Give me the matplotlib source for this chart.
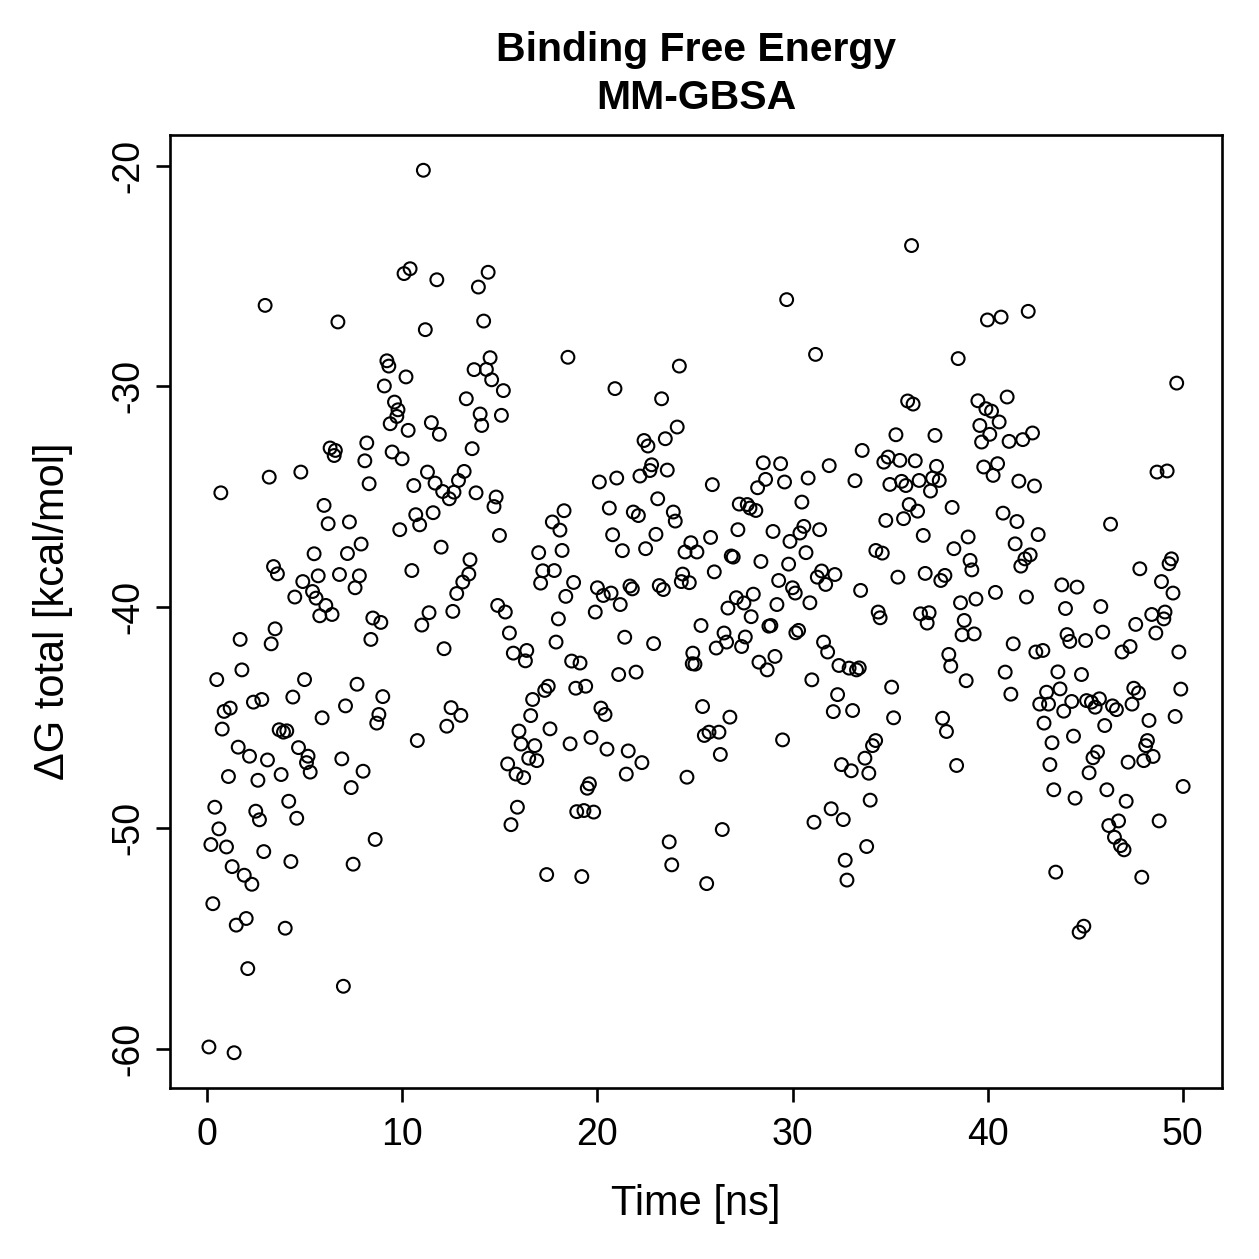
import matplotlib
matplotlib.use("Agg")
import matplotlib.pyplot as plt

plt.rcParams['font.family'] = ['Liberation Sans', 'DejaVu Sans']
plt.rcParams['axes.unicode_minus'] = False

# time [ns], grouped by region
t_top_left = [11.08, 10.09, 10.40, 11.77, 2.97, 6.70, 11.18, 9.21, 9.31, 10.19, 9.08, 9.60, 9.78, 9.72,
              9.38, 10.30, 11.49, 11.90, 6.30, 6.57, 6.51, 8.18, 9.48, 9.99, 8.08, 4.80, 11.29]
dg_top_left = [-20.21, -24.89, -24.67, -25.17, -26.33, -27.08, -27.43, -28.84, -29.08, -29.57, -29.98, -30.71,
               -31.06, -31.36, -31.69, -31.99, -31.64, -32.17, -32.79, -32.90, -33.13, -32.56, -32.97, -33.28,
               -33.37, -33.88, -33.88]

t_mid_left = [3.18, 0.70, 8.30, 10.59, 11.68, 12.07, 5.99, 6.20, 7.29, 10.69, 11.58, 10.89, 9.87, 7.89, 7.19,
              5.48, 11.99, 3.40, 3.60, 10.49, 5.69, 6.78, 7.80, 4.90, 7.58, 5.40, 5.58, 4.49, 6.08, 6.40, 5.77,
              8.49, 8.90, 11.37, 11.00, 3.48, 1.69, 3.28, 8.39, 12.14, 1.78, 0.49, 4.99, 7.68, 9.00, 4.39, 7.09,
              2.37, 2.80, 1.18, 0.87, 8.80, 8.69, 5.89, 0.77, 3.69, 3.91, 4.08, 10.77, 1.59, 4.68, 2.17, 3.09,
              5.17, 5.09, 6.90, 7.99, 5.28, 1.09, 2.60, 3.79, 7.38]
dg_mid_left = [-34.11, -34.82, -34.41, -34.49, -34.38, -34.76, -35.39, -36.22, -36.14, -35.81, -35.72, -36.27,
               -36.49, -37.14, -37.57, -37.58, -37.28, -38.16, -38.49, -38.34, -38.58, -38.52, -38.58, -38.84,
               -39.12, -39.29, -39.59, -39.54, -39.92, -40.33, -40.39, -40.49, -40.69, -40.25, -40.81, -40.98,
               -41.46, -41.66, -41.46, -41.88, -42.84, -43.28, -43.28, -43.49, -44.05, -44.07, -44.47, -44.30,
               -44.18, -44.57, -44.72, -44.86, -45.25, -45.01, -45.52, -45.55, -45.66, -45.60, -46.04, -46.34,
               -46.36, -46.75, -46.92, -46.75, -47.04, -46.87, -47.43, -47.47, -47.67, -47.84, -47.58, -48.17]

t_low_left = [0.39, 2.49, 2.68, 4.18, 4.59, 0.60, 0.19, 0.99, 2.90, 4.29, 8.61, 7.48, 1.28, 1.90, 2.29, 0.29,
              2.00, 1.49, 4.00, 2.08, 6.98, 0.09, 1.38]
dg_low_left = [-49.06, -49.24, -49.63, -48.79, -49.56, -50.04, -50.75, -50.86, -51.07, -51.52, -50.52, -51.64,
               -51.75, -52.14, -52.55, -53.43, -54.10, -54.40, -54.54, -56.37, -57.17, -59.92, -60.18]

t_top_c1 = [14.40, 13.90, 14.17, 14.50, 13.68, 14.31, 14.58, 15.18, 18.49, 24.20, 20.90, 23.29, 13.28, 13.99,
            14.07, 15.08, 24.09, 23.48, 22.39, 22.59, 13.58, 13.17, 22.78, 22.69, 23.58]
dg_top_c1 = [-24.83, -25.50, -27.04, -28.70, -29.24, -29.23, -29.70, -30.19, -28.68, -29.08, -30.10, -30.56,
             -30.56, -31.25, -31.77, -31.31, -31.84, -32.37, -32.45, -32.70, -32.82, -33.85, -33.55, -33.81,
             -33.79]

t_mid_c1 = [12.88, 12.65, 12.41, 13.78, 14.81, 14.70, 14.98, 13.47, 13.41, 13.10, 12.79, 12.59, 14.89, 15.28,
            15.49, 15.69, 16.38, 16.31, 12.50, 13.00, 12.28, 20.10, 20.99, 22.18, 18.29, 17.69, 18.08, 20.61,
            23.09, 21.84, 22.10, 23.89, 23.99, 20.78, 23.00, 22.47, 21.28, 24.79, 24.49, 16.99, 18.19, 17.20,
            17.79, 17.09, 18.78, 18.38, 18.00, 17.88, 20.00, 20.30, 20.70, 21.17, 19.89, 21.67, 21.79, 23.17,
            23.38, 24.37, 24.30, 24.71, 21.40, 22.88, 18.68, 19.11, 21.09, 21.98, 18.89, 19.40, 17.48, 17.30,
            16.68, 16.58, 15.98, 16.09, 16.79, 17.57, 16.48, 16.89, 15.40, 15.83, 16.22, 20.18, 20.39, 18.60,
            19.67, 20.49, 21.58, 22.28, 21.48, 19.59, 19.48, 24.59, 24.89, 24.86]
dg_mid_c1 = [-34.26, -34.79, -35.09, -34.82, -35.01, -35.44, -36.75, -37.85, -38.50, -38.86, -39.38, -40.19,
             -39.92, -40.22, -41.17, -42.08, -41.96, -42.43, -44.55, -44.90, -45.39, -34.33, -34.15, -34.06,
             -35.63, -36.14, -36.51, -35.51, -35.09, -35.69, -35.85, -35.69, -36.10, -36.72, -36.70, -37.35,
             -37.44, -37.08, -37.50, -37.53, -37.43, -38.35, -38.34, -38.91, -38.88, -39.51, -40.53, -41.58,
             -39.12, -39.47, -39.36, -39.88, -40.22, -39.04, -39.17, -39.02, -39.20, -38.50, -38.84, -38.89,
             -41.36, -41.65, -42.44, -42.53, -43.05, -42.94, -43.67, -43.58, -43.58, -43.77, -44.18, -44.91,
             -45.61, -46.20, -46.27, -45.51, -46.84, -46.95, -47.10, -47.56, -47.72, -44.57, -44.86, -46.19,
             -45.90, -46.43, -46.51, -47.04, -47.56, -48.00, -48.20, -47.70, -42.08, -42.56]

t_low_c1 = [15.90, 15.57, 18.94, 19.31, 19.81, 23.68, 23.81, 17.40, 19.20]
dg_low_c1 = [-49.06, -49.85, -49.26, -49.21, -49.28, -50.63, -51.67, -52.11, -52.20]

t_top_c2 = [36.10, 29.70, 31.18, 35.90, 36.18, 35.30, 37.30, 33.57, 28.50, 29.39, 31.88, 34.90, 34.68, 35.50,
            36.29, 37.38]
dg_top_c2 = [-23.62, -26.07, -28.55, -30.66, -30.80, -32.19, -32.22, -32.90, -33.46, -33.50, -33.59, -33.20,
             -33.43, -33.35, -33.37, -33.62]

t_mid_c2 = [25.89, 28.62, 28.21, 29.59, 30.80, 33.20, 34.99, 35.59, 35.81, 36.49, 37.18, 37.52, 37.07, 30.48,
            27.27, 27.68, 27.82, 28.12, 35.98, 36.41, 34.78, 35.69, 36.70, 27.20, 29.00, 30.58, 30.38, 29.87,
            31.39, 25.80, 25.10, 26.86, 26.96, 30.69, 28.38, 29.80, 34.27, 34.60, 25.99, 29.29, 31.49, 31.27,
            31.70, 32.17, 35.40, 36.80, 37.60, 33.49, 27.12, 27.51, 27.99, 26.69, 29.20, 30.00, 30.14, 30.89,
            27.88, 25.31, 28.79, 28.89, 30.17, 30.31, 34.39, 34.49, 36.56, 37.00, 36.90, 26.49, 26.62, 27.58,
            27.39, 26.09, 25.00, 28.28, 28.70, 29.10, 31.59, 31.80, 32.38, 32.90, 33.28, 33.42, 30.99, 32.31,
            35.08, 25.39, 26.79, 25.72, 25.48, 26.23, 26.30, 29.49, 32.09, 33.08, 35.18, 37.69, 34.26, 34.10,
            33.71, 32.51, 33.01, 33.91]
dg_mid_c2 = [-34.45, -34.21, -34.59, -34.33, -34.15, -34.27, -34.44, -34.30, -34.49, -34.26, -34.15, -34.26,
             -34.74, -35.24, -35.33, -35.35, -35.51, -35.62, -35.35, -35.65, -36.07, -35.99, -36.75, -36.49,
             -36.57, -36.34, -36.64, -37.02, -36.49, -36.84, -37.50, -37.68, -37.73, -37.53, -37.93, -38.05,
             -37.43, -37.55, -38.40, -38.79, -38.36, -38.64, -38.97, -38.52, -38.64, -38.47, -38.79, -39.24,
             -39.57, -39.81, -39.41, -40.04, -39.88, -39.12, -39.36, -39.80, -40.43, -40.83, -40.86, -40.83,
             -41.16, -41.05, -40.22, -40.48, -40.30, -40.25, -40.72, -41.17, -41.58, -41.35, -41.78, -41.85,
             -42.58, -42.49, -42.84, -42.23, -41.58, -42.03, -42.64, -42.76, -42.84, -42.75, -43.29, -43.96,
             -43.62, -44.50, -44.98, -45.66, -45.81, -45.66, -46.67, -46.01, -44.73, -44.68, -45.01, -45.03,
             -46.04, -46.27, -46.84, -47.13, -47.41, -47.52]

t_low_c2 = [33.98, 31.98, 32.60, 31.10, 26.40, 33.80, 32.70, 25.60, 32.79]
dg_low_c2 = [-48.74, -49.13, -49.62, -49.74, -50.07, -50.84, -51.46, -52.52, -52.36]

t_top_right = [42.08, 39.99, 40.69, 38.49, 49.69, 41.00, 39.50, 39.91, 40.20, 40.59, 39.60, 40.11, 39.69, 41.10,
               41.80, 42.30, 39.80, 40.51, 48.68, 49.20]
dg_top_right = [-26.60, -26.99, -26.86, -28.74, -29.85, -30.48, -30.65, -31.01, -31.12, -31.61, -31.77, -32.17,
                -32.52, -32.49, -32.41, -32.11, -33.65, -33.50, -33.88, -33.83]

t_mid_right = [40.28, 41.60, 42.40, 38.18, 40.79, 41.50, 46.30, 39.00, 38.27, 41.41, 42.59, 39.10, 39.19, 42.18,
               41.91, 41.70, 37.81, 47.80, 49.42, 49.30, 48.91, 49.50, 43.80, 44.58, 40.40, 38.61, 39.40, 41.99,
               43.99, 45.80, 38.80, 38.69, 39.31, 41.31, 44.07, 44.21, 45.02, 45.90, 47.59, 48.41, 49.09, 49.03,
               48.62, 38.01, 38.11, 42.47, 42.83, 46.89, 47.30, 49.80, 38.90, 40.90, 43.60, 44.81, 41.19, 43.02,
               43.71, 42.67, 43.12, 43.90, 44.31, 45.07, 45.32, 45.51, 45.73, 46.40, 46.60, 47.40, 47.49, 47.73,
               49.90, 49.61, 48.27, 37.89, 42.89, 46.00, 44.40, 43.30, 48.19, 48.10, 48.48, 48.00, 47.20, 45.63,
               45.40, 43.19, 45.20, 38.41, 50.02, 43.39, 46.11]
dg_mid_right = [-34.03, -34.29, -34.51, -35.48, -35.74, -36.12, -36.24, -36.82, -37.35, -37.13, -36.71, -37.88,
                -38.31, -37.63, -37.81, -38.14, -38.56, -38.26, -37.81, -38.03, -38.84, -39.36, -38.99, -39.09,
                -39.33, -39.80, -39.63, -39.54, -40.06, -39.97, -40.60, -41.25, -41.21, -41.66, -41.24, -41.55,
                -41.51, -41.13, -40.78, -40.33, -40.22, -40.53, -41.17, -42.14, -42.67, -42.03, -41.96, -42.03,
                -41.78, -42.03, -43.33, -42.94, -42.93, -43.05, -43.94, -43.85, -43.70, -44.39, -44.39, -44.71,
                -44.27, -44.23, -44.30, -44.53, -44.15, -44.47, -44.64, -44.39, -43.67, -43.88, -43.71, -44.95,
                -45.13, -45.63, -45.25, -45.36, -45.84, -46.14, -46.04, -46.27, -46.76, -46.95, -47.02, -46.56,
                -46.82, -47.13, -47.50, -47.17, -48.12, -48.27, -48.27]

t_low_right = [44.48, 47.10, 48.79, 46.71, 46.21, 46.50, 46.81, 46.99, 43.49, 47.90, 44.93, 44.69]
dg_low_right = [-48.65, -48.79, -49.68, -49.68, -49.89, -50.42, -50.80, -50.99, -52.00, -52.23, -54.45, -54.72]

time_ns = (t_top_left + t_mid_left + t_low_left + t_top_c1 + t_mid_c1 + t_low_c1 +
           t_top_c2 + t_mid_c2 + t_low_c2 + t_top_right + t_mid_right + t_low_right)
dg_total = (dg_top_left + dg_mid_left + dg_low_left + dg_top_c1 + dg_mid_c1 + dg_low_c1 +
            dg_top_c2 + dg_mid_c2 + dg_low_c2 + dg_top_right + dg_mid_right + dg_low_right)

xticks = [0, 10, 20, 30, 40, 50]
yticks = [-60, -50, -40, -30, -20]

fig = plt.figure(figsize=(12.59, 12.59), dpi=100)
ax = fig.add_axes([0.135, 0.1358, 0.8357, 0.757])

ax.scatter(time_ns, dg_total, s=85, facecolors='none', edgecolors='black', linewidths=1.5)
ax.margins(0.04)

for sp in ax.spines.values():
    sp.set_linewidth(1.9)
ax.set_xticks(xticks)
ax.set_yticks(yticks)
ax.set_xticklabels([str(v) for v in xticks])
ax.set_yticklabels([str(v) for v in yticks], rotation=90, va='center')
ax.tick_params(direction='out', length=10, width=1.9, labelsize=27)
ax.tick_params(axis='x', pad=11)
ax.tick_params(axis='y', pad=7)

ax.set_xlabel("Time [ns]", fontsize=30, labelpad=22)
ax.set_ylabel("\u0394G total [kcal/mol]", fontsize=30, labelpad=27)
ax.set_title("Binding Free Energy\nMM-GBSA", fontsize=29.5, fontweight='bold', linespacing=1.31, pad=19)

fig.savefig("out.png", dpi=100)
